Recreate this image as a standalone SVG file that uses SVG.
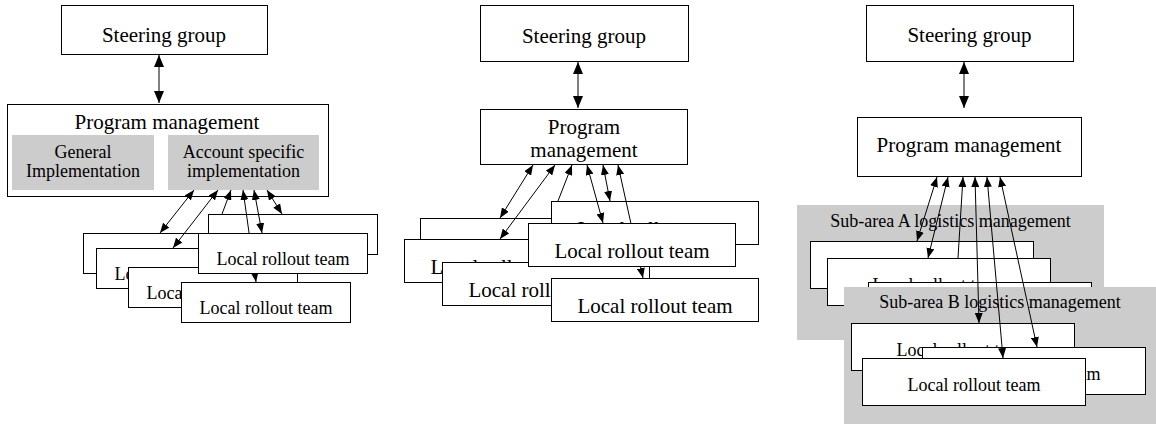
<svg xmlns="http://www.w3.org/2000/svg" width="1156" height="424" viewBox="0 0 1156 424">
<style>
.box{fill:#fff;stroke:#000;stroke-width:1}
.gray{fill:#cccccc;stroke:none}
.t21{font-family:"Liberation Serif","Times New Roman",serif;font-size:21px;text-anchor:middle;fill:#000}
.t18{font-family:"Liberation Serif","Times New Roman",serif;font-size:18px;text-anchor:middle;fill:#000}
.c{stroke:#000;stroke-width:1;fill:none}
.dbl{marker-start:url(#ah);marker-end:url(#ah)}
.one{marker-end:url(#ah)}
.big{marker-start:url(#ahb);marker-end:url(#ahb)}
</style>
<defs>
<marker id="ah" viewBox="0 0 10 8" markerWidth="10" markerHeight="8" refX="10" refY="4" markerUnits="userSpaceOnUse" orient="auto-start-reverse"><path d="M0,0 L10,4 L0,8 z" fill="#000"/></marker>
<marker id="ahb" viewBox="0 0 12 10" markerWidth="12" markerHeight="10" refX="12" refY="5" markerUnits="userSpaceOnUse" orient="auto-start-reverse"><path d="M0,0 L12,5 L0,10 z" fill="#000"/></marker>
</defs>
<rect width="1156" height="424" fill="#fff"/>

<!-- LEFT DIAGRAM -->
<g id="L-steering"><rect class="box" x="61.5" y="5.5" width="206" height="49"/><text class="t21" x="164" y="42">Steering group</text></g>
<g id="L-pm">
<rect class="box" x="7.5" y="104.5" width="321" height="92"/>
<text class="t21" x="167" y="129">Program management</text>
<g id="L-general"><rect class="gray" x="12" y="135" width="142" height="55"/><text class="t18" x="83" y="158">General</text><text class="t18" x="83" y="177">Implementation</text></g>
<g id="L-account"><rect class="gray" x="168" y="135" width="151" height="55"/><text class="t18" x="243.5" y="158">Account specific</text><text class="t18" x="243.5" y="177">implementation</text></g>
</g>
<g id="L-team1"><rect class="box" x="83.5" y="233.5" width="169" height="40"/></g>
<g id="L-team2"><rect class="box" x="96.5" y="248.5" width="169" height="40"/><text class="t18" x="181" y="280">Local rollout team</text></g>
<g id="L-team3"><rect class="box" x="128.5" y="267.5" width="169" height="40"/><text class="t18" x="213" y="299">Local rollout team</text></g>
<g id="L-team4"><rect class="box" x="208.5" y="214.5" width="169" height="40"/></g>
<g id="L-connectors">
<line class="c big" x1="159" y1="55" x2="159" y2="103"/>
<line class="c dbl" x1="194" y1="190" x2="160" y2="233"/>
<line class="c dbl" x1="218" y1="190" x2="173" y2="248"/>
<line class="c one" x1="222" y1="214" x2="231" y2="190"/>
<line class="c dbl" x1="243" y1="190" x2="256" y2="282"/>
<line class="c dbl" x1="254" y1="190" x2="262" y2="233"/>
<line class="c dbl" x1="267" y1="190" x2="282" y2="214"/>
</g>
<g id="L-team5"><rect class="box" x="198.5" y="233.5" width="169" height="40"/><text class="t18" x="283" y="265">Local rollout team</text></g>
<g id="L-team6"><rect class="box" x="181.5" y="282.5" width="169" height="40"/><text class="t18" x="266" y="314">Local rollout team</text></g>

<!-- MIDDLE DIAGRAM -->
<g id="M-steering"><rect class="box" x="480.5" y="5.5" width="208" height="56"/><text class="t21" x="584" y="43">Steering group</text></g>
<g id="M-pm"><rect class="box" x="480.5" y="109.5" width="207" height="55"/><text class="t21" x="584" y="134">Program</text><text class="t21" x="584" y="157">management</text></g>
<g id="M-team1"><rect class="box" x="420.5" y="218.5" width="207" height="43"/></g>
<g id="M-team2"><rect class="box" x="404.5" y="239.5" width="207" height="43"/><text class="t21" x="508" y="274">Local rollout team</text></g>
<g id="M-team3"><rect class="box" x="442.5" y="262.5" width="207" height="43"/><text class="t21" x="546" y="297">Local rollout team</text></g>
<g id="M-team4"><rect class="box" x="551.5" y="201.5" width="207" height="43"/><text class="t21" x="655" y="236">Local rollout team</text></g>
<g id="M-connectors">
<line class="c big" x1="578" y1="62" x2="578" y2="108"/>
<line class="c dbl" x1="533" y1="165" x2="500" y2="218"/>
<line class="c dbl" x1="555" y1="165" x2="500" y2="239"/>
<line class="c one" x1="558" y1="201" x2="572" y2="165"/>
<line class="c dbl" x1="587" y1="165" x2="603" y2="223"/>
<line class="c dbl" x1="603" y1="165" x2="610" y2="201"/>
<line class="c dbl" x1="618" y1="165" x2="643" y2="278"/>
</g>
<g id="M-team5"><rect class="box" x="528.5" y="223.5" width="207" height="43"/><text class="t21" x="632" y="258">Local rollout team</text></g>
<g id="M-team6"><rect class="box" x="551.5" y="278.5" width="207" height="43"/><text class="t21" x="655" y="313">Local rollout team</text></g>

<!-- RIGHT DIAGRAM -->
<g id="R-steering"><rect class="box" x="866.5" y="5.5" width="207" height="56"/><text class="t21" x="969.5" y="42">Steering group</text></g>
<g id="R-pm"><rect class="box" x="857.5" y="117.5" width="224" height="59"/><text class="t21" x="969" y="152">Program management</text></g>
<g id="R-subA">
<rect class="gray" x="797" y="205" width="307" height="135"/>
<text class="t18" x="950.5" y="227">Sub-area A logistics management</text>
<g id="R-team1"><rect class="box" x="810.5" y="241.5" width="223" height="47"/></g>
<g id="R-team2"><rect class="box" x="827.5" y="258.5" width="223" height="47"/><text class="t18" x="939" y="291">Local rollout team</text></g>
<g id="R-team3"><rect class="box" x="868.5" y="282.5" width="223" height="47"/></g>
</g>
<g id="R-subB">
<rect class="gray" x="844" y="287" width="312" height="137"/>
<text class="t18" x="1000" y="308">Sub-area B logistics management</text>
<g id="R-team4"><rect class="box" x="851.5" y="323.5" width="223" height="47"/><text class="t18" x="963" y="356">Local rollout team</text></g>
<g id="R-team5"><rect class="box" x="922.5" y="347.5" width="223" height="47"/><text class="t18" x="1034" y="380">Local rollout team</text></g>
<g id="R-team6"><rect class="box" x="862.5" y="358.5" width="223" height="47"/><text class="t18" x="974" y="391">Local rollout team</text></g>
</g>
<g id="R-connectors">
<line class="c big" x1="964" y1="62" x2="964" y2="108"/>
<line class="c dbl" x1="937" y1="177" x2="917" y2="241"/>
<line class="c dbl" x1="948" y1="177" x2="928" y2="258"/>
<line class="c one" x1="958" y1="258" x2="963" y2="177"/>
<line class="c dbl" x1="975" y1="177" x2="979" y2="323"/>
<line class="c dbl" x1="987" y1="177" x2="1003" y2="358"/>
<line class="c dbl" x1="1000" y1="177" x2="1037" y2="347"/>
</g>
</svg>
